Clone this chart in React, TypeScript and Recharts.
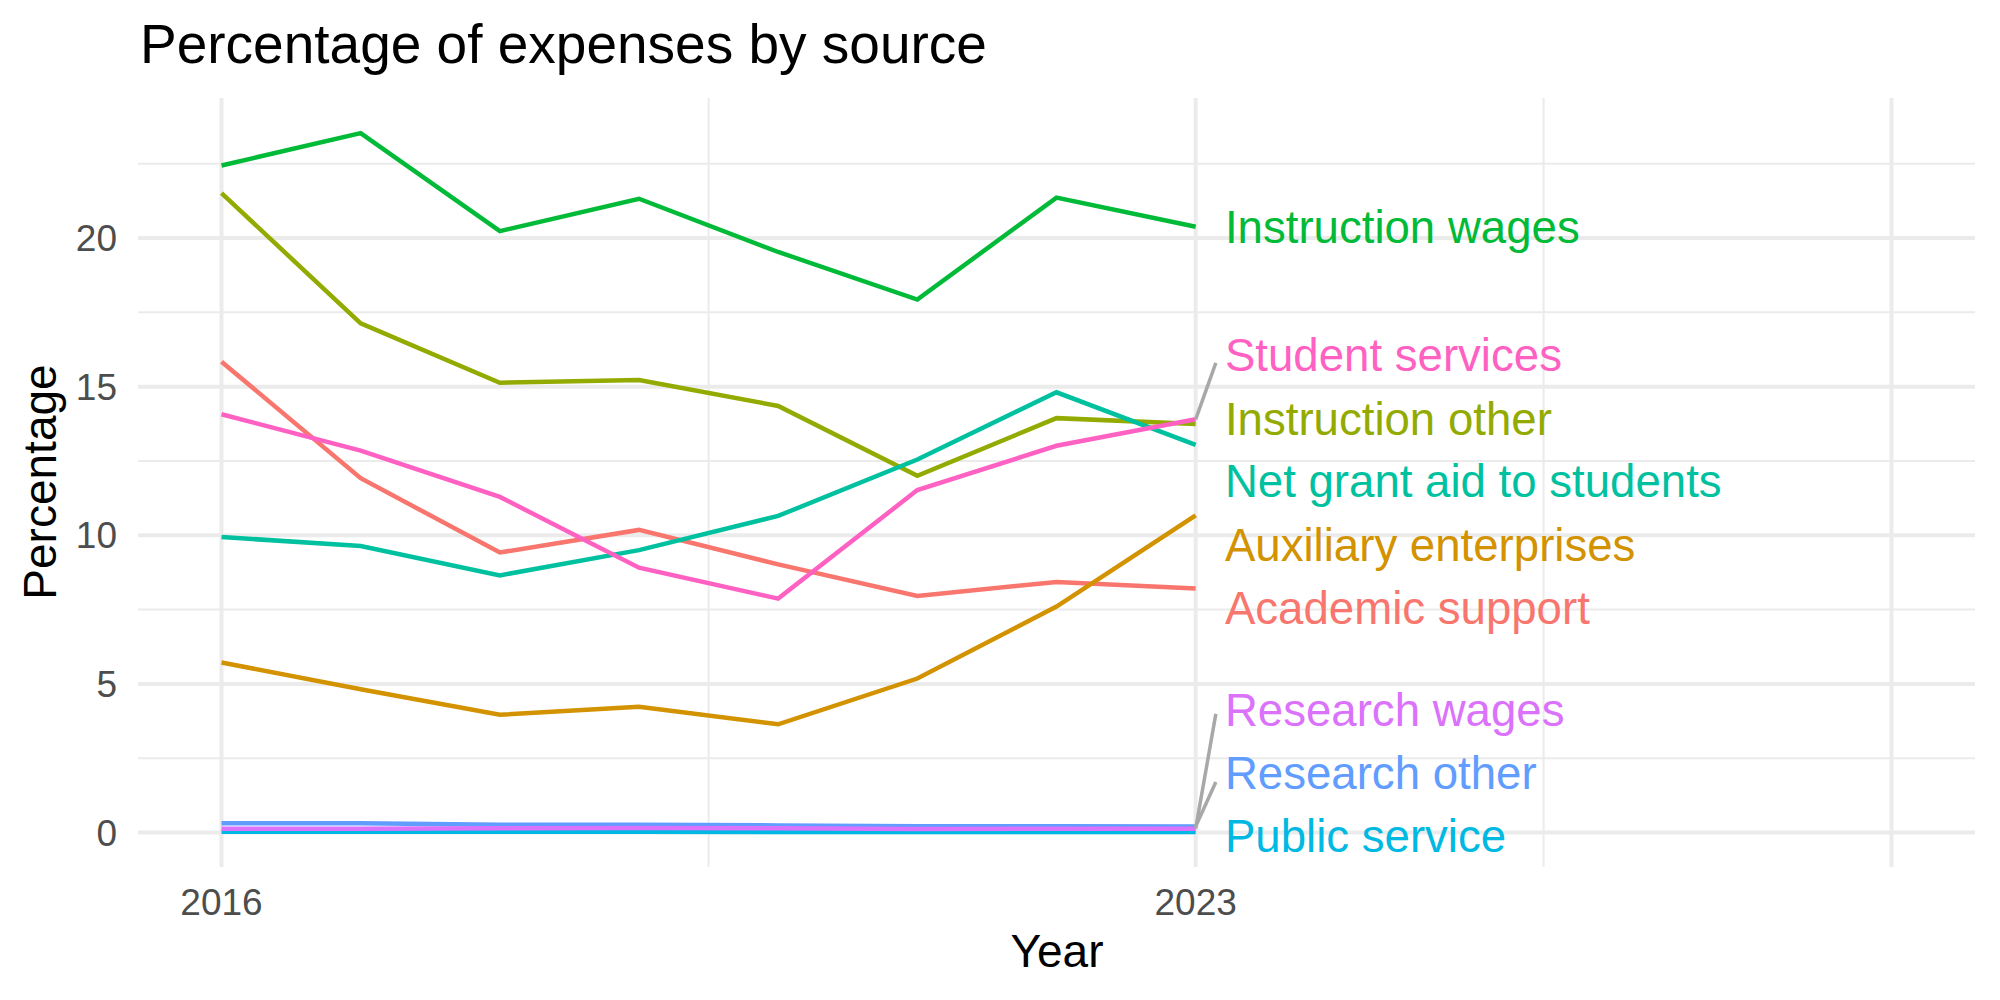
import { LineChart, Line, XAxis, YAxis, CartesianGrid, ReferenceDot, ReferenceLine } from 'recharts';

const FONT = '"Liberation Sans", Arial, Helvetica, sans-serif';

const years = [2016, 2017, 2018, 2019, 2020, 2021, 2022, 2023];

// share of expenses (%) per source
const academicSupport = [15.84, 11.92, 9.42, 10.18, 9.02, 7.96, 8.43, 8.21];
const auxiliaryEnterprises = [5.72, 4.82, 3.96, 4.23, 3.64, 5.18, 7.6, 10.67];
const instructionOther = [21.51, 17.13, 15.13, 15.22, 14.35, 12.0, 13.94, 13.74];
const instructionWages = [22.44, 23.53, 20.23, 21.32, 19.53, 17.93, 21.36, 20.38];
const netGrantAid = [9.94, 9.64, 8.65, 9.5, 10.65, 12.55, 14.81, 13.04];
const publicService = [0.03, 0.03, 0.03, 0.03, 0.02, 0.02, 0.02, 0.02];
const researchOther = [0.31, 0.31, 0.26, 0.26, 0.24, 0.21, 0.21, 0.2];
const researchWages = [0.13, 0.13, 0.14, 0.15, 0.14, 0.12, 0.13, 0.13];
const studentServices = [14.07, 12.85, 11.29, 8.91, 7.87, 11.52, 13.01, 13.9];

const names = [
  'Academic support',
  'Auxiliary enterprises',
  'Instruction other',
  'Instruction wages',
  'Net grant aid to students',
  'Public service',
  'Research other',
  'Research wages',
  'Student services',
];

// where the repelled end labels landed (in %), and where their leader segments stop
const labelY = [7.55, 9.67, 13.93, 20.36, 11.82, -0.11, 2.0, 4.12, 16.06];
const segmentEndY = [null, null, null, null, null, null, 1.7, 3.99, 15.8];

const xTicks = [2016, 2023];
const yTicks = [0, 5, 10, 15, 20];
const majorX = [2016, 2023, 2028];
const minorX = [2019.5, 2025.5];
const minorY = [2.5, 7.5, 12.5, 17.5, 22.5];

const colors = ['#F8766D', '#D39200', '#93AA00', '#00BA38', '#00C19F', '#00B9E3', '#619CFF', '#DB72FB', '#FF61C3'];

const values = [
  academicSupport,
  auxiliaryEnterprises,
  instructionOther,
  instructionWages,
  netGrantAid,
  publicService,
  researchOther,
  researchWages,
  studentServices,
];

const series = names.map((name, i) => ({ key: `s${i}`, name, color: colors[i], values: values[i] }));

const rows = years.map((year, j) => {
  const row: Record<string, number> = { year };
  series.forEach((s) => {
    row[s.key] = s.values[j];
  });
  return row;
});

const LAST_YEAR = years[years.length - 1];
const LABEL_X = 2023.21;
const SEGMENT_X = 2023.145;

export default function App() {
  const tickStyle = { fontSize: 37, fill: '#4D4D4D', fontFamily: FONT };

  return (
    <div style={{ position: 'absolute', left: 0, top: 0, width: 2000, height: 1000, background: '#fff' }}>
      <LineChart width={2000} height={1000} data={rows} margin={{ top: 98, right: 25, bottom: 0, left: 0 }}>
        <CartesianGrid stroke="#EBEBEB" strokeWidth={2} horizontalValues={minorY} verticalValues={minorX} />
        <CartesianGrid stroke="#EBEBEB" strokeWidth={4} horizontalValues={yTicks} verticalValues={majorX} />
        <XAxis
          type="number"
          dataKey="year"
          domain={[2015.4, 2028.6]}
          ticks={xTicks}
          interval={0}
          allowDataOverflow
          axisLine={false}
          tickLine={false}
          tickSize={0}
          tickMargin={22}
          height={133}
          tick={tickStyle}
        />
        <YAxis
          type="number"
          domain={[-1.16, 24.71]}
          ticks={yTicks}
          interval={0}
          allowDataOverflow
          axisLine={false}
          tickLine={false}
          tickSize={0}
          tickMargin={21}
          width={138}
          tick={tickStyle}
        />
        {series.map((s) => (
          <Line
            key={s.key}
            type="linear"
            dataKey={s.key}
            stroke={s.color}
            strokeWidth={4.5}
            dot={false}
            activeDot={false}
            isAnimationActive={false}
          />
        ))}
        {series.map((s, i) =>
          segmentEndY[i] === null ? null : (
            <ReferenceLine
              key={`seg${i}`}
              segment={[
                { x: LAST_YEAR, y: s.values[s.values.length - 1] },
                { x: SEGMENT_X, y: segmentEndY[i] as number },
              ]}
              stroke="#A8A8A8"
              strokeWidth={3.5}
            />
          )
        )}
        {series.map((s, i) => (
          <ReferenceDot
            key={`lab${i}`}
            x={LABEL_X}
            y={labelY[i]}
            r={0}
            fill="none"
            stroke="none"
            label={{
              value: s.name,
              position: 'right',
              offset: 0,
              fill: s.color,
              fontSize: 45.6,
              fontFamily: FONT,
            }}
          />
        ))}
      </LineChart>
      <svg
        width={2000}
        height={1000}
        style={{ position: 'absolute', left: 0, top: 0, pointerEvents: 'none' }}
        fontFamily={FONT}
      >
        <text x={140} y={63} fontSize={55} fill="#000">
          Percentage of expenses by source
        </text>
        <text x={1057} y={967} fontSize={46} fill="#000" textAnchor="middle">
          Year
        </text>
        <text transform="translate(56,482) rotate(-90)" fontSize={46} fill="#000" textAnchor="middle">
          Percentage
        </text>
      </svg>
    </div>
  );
}
